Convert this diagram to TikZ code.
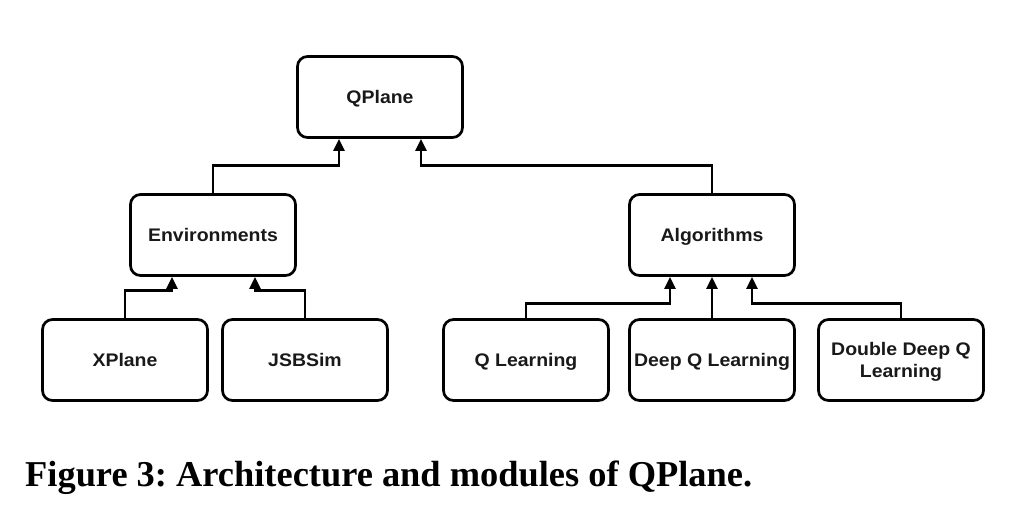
\documentclass[tikz,border=0pt]{standalone}
\usepackage{fontspec}
\setmainfont{Liberation Serif}
\newfontfamily\boxfont[FakeStretch=1.07]{Liberation Sans}
\usetikzlibrary{arrows.meta}
\tikzset{
  box/.style={draw=black, line width=2.7pt, rounded corners=10pt, minimum width=165pt, minimum height=81pt, inner sep=0pt, align=center, font=\boxfont\bfseries\fontsize{18.2}{22}\selectfont, text=black!90, text height=13pt, text depth=0pt},
  arr/.style={draw=black, line width=2.7pt, -{Triangle[length=12pt,width=11pt]}},
}
\begin{document}
\frenchspacing
\begin{tikzpicture}[x=1pt,y=-1pt]
\useasboundingbox (0,0) rectangle (1015,512);
\node[box] (qp) at (380,97) {QPlane};
\node[box] (env) at (213,235) {Environments};
\node[box] (alg) at (712,235) {Algorithms};
\node[box] (xp) at (125,360) {XPlane};
\node[box] (jsb) at (305,360) {JSBSim};
\node[box] (ql) at (526,360) {Q Learning};
\node[box] (dq) at (712,360) {Deep Q Learning};
\node[box, text height=35pt] (ddq) at (901,360) {Double Deep Q\\Learning};
\draw[arr] (env.north) -- ++(0,-28) -| ([xshift=-41pt]qp.south);
\draw[arr] (alg.north) -- ++(0,-28) -| ([xshift=41pt]qp.south);
\draw[arr] (xp.north) -- ++(0,-28) -| ([xshift=-41pt]env.south);
\draw[arr] (jsb.north) -- ++(0,-28) -| ([xshift=42pt]env.south);
\draw[arr] (ql.north) -- ++(0,-15) -| ([xshift=-42pt]alg.south);
\draw[arr] (dq.north) -- (alg.south);
\draw[arr] (ddq.north) -- ++(0,-15) -| ([xshift=40pt]alg.south);
\node[anchor=base west, inner sep=0pt, font=\bfseries\fontsize{36.4}{40}\selectfont] (cap) at (25,486) {Figure 3: Architecture and modules of QPlane.};
\end{tikzpicture}
\end{document}
